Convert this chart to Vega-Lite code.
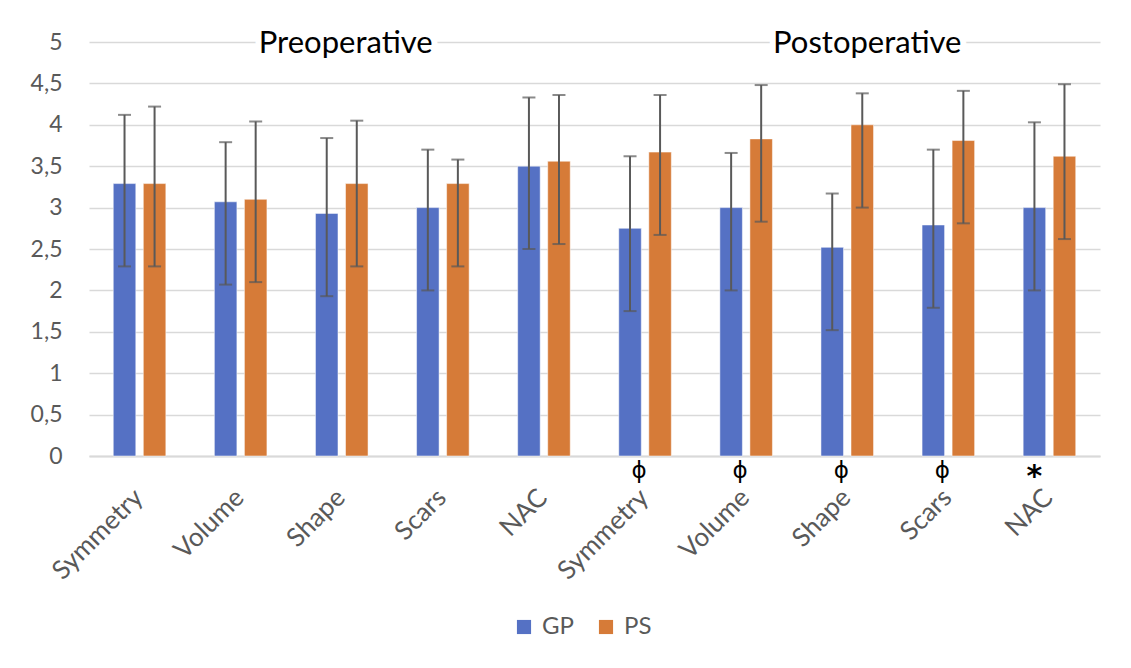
{
  "$schema": "https://vega.github.io/schema/vega-lite/v6.json",
  "width": 1011,
  "height": 414,
  "autosize": "none",
  "padding": {"left": 89, "top": 42, "right": 31, "bottom": 212},
  "background": "white",
  "config": {
    "view": {"stroke": null},
    "font": "Lato",
    "axis": {"labelFont": "Lato", "labelColor": "#595959"}
  },
  "datasets": {
    "bars": [
      {"key": "pre-Symmetry", "group": "GP", "mean": 3.29, "lo": 2.29, "hi": 4.12},
      {"key": "pre-Symmetry", "group": "PS", "mean": 3.29, "lo": 2.29, "hi": 4.22},
      {"key": "pre-Volume", "group": "GP", "mean": 3.07, "lo": 2.07, "hi": 3.79},
      {"key": "pre-Volume", "group": "PS", "mean": 3.10, "lo": 2.10, "hi": 4.04},
      {"key": "pre-Shape", "group": "GP", "mean": 2.93, "lo": 1.93, "hi": 3.84},
      {"key": "pre-Shape", "group": "PS", "mean": 3.29, "lo": 2.29, "hi": 4.05},
      {"key": "pre-Scars", "group": "GP", "mean": 3.0, "lo": 2.0, "hi": 3.70},
      {"key": "pre-Scars", "group": "PS", "mean": 3.29, "lo": 2.29, "hi": 3.58},
      {"key": "pre-NAC", "group": "GP", "mean": 3.5, "lo": 2.5, "hi": 4.33},
      {"key": "pre-NAC", "group": "PS", "mean": 3.56, "lo": 2.56, "hi": 4.36},
      {"key": "post-Symmetry", "group": "GP", "mean": 2.75, "lo": 1.75, "hi": 3.62},
      {"key": "post-Symmetry", "group": "PS", "mean": 3.67, "lo": 2.67, "hi": 4.36},
      {"key": "post-Volume", "group": "GP", "mean": 3.0, "lo": 2.0, "hi": 3.66},
      {"key": "post-Volume", "group": "PS", "mean": 3.83, "lo": 2.83, "hi": 4.48},
      {"key": "post-Shape", "group": "GP", "mean": 2.52, "lo": 1.52, "hi": 3.17},
      {"key": "post-Shape", "group": "PS", "mean": 4.0, "lo": 3.0, "hi": 4.38},
      {"key": "post-Scars", "group": "GP", "mean": 2.79, "lo": 1.79, "hi": 3.70},
      {"key": "post-Scars", "group": "PS", "mean": 3.81, "lo": 2.81, "hi": 4.41},
      {"key": "post-NAC", "group": "GP", "mean": 3.0, "lo": 2.0, "hi": 4.03},
      {"key": "post-NAC", "group": "PS", "mean": 3.62, "lo": 2.62, "hi": 4.49}
    ],
    "marks": [
      {"key": "post-Symmetry", "group": "GP", "y": -0.2, "label": "ϕ"},
      {"key": "post-Volume", "group": "GP", "y": -0.2, "label": "ϕ"},
      {"key": "post-Shape", "group": "GP", "y": -0.2, "label": "ϕ"},
      {"key": "post-Scars", "group": "GP", "y": -0.2, "label": "ϕ"}
    ],
    "stars": [
      {"key": "post-NAC", "group": "GP", "y": -0.2, "label": "*"}
    ],
    "preTitle": [
      {"key": "pre-Shape", "y": 5, "label": "Preoperative"}
    ],
    "postTitle": [
      {"key": "post-Shape", "y": 5, "label": "Postoperative"}
    ]
  },
  "encoding": {
    "x": {
      "field": "key",
      "type": "nominal",
      "sort": null,
      "scale": {
        "domain": ["pre-Symmetry", "pre-Volume", "pre-Shape", "pre-Scars", "pre-NAC", "post-Symmetry", "post-Volume", "post-Shape", "post-Scars", "post-NAC"],
        "paddingInner": 0.48,
        "paddingOuter": 0.24
      },
      "axis": {
        "title": null,
        "labelExpr": "split(datum.value, '-')[1]",
        "labelAngle": -45,
        "labelFontSize": 26,
        "labelPadding": 28,
        "labelOffset": -10,
        "ticks": false,
        "domainColor": "#D9D9D9",
        "domainWidth": 2
      }
    }
  },
  "layer": [
    {
      "data": {"name": "bars"},
      "mark": {"type": "bar", "stroke": "#ffffff", "strokeOpacity": 0.5, "strokeWidth": 1},
      "encoding": {
        "xOffset": {"field": "group", "type": "nominal", "scale": {"paddingInner": 0.25, "domain": ["GP", "PS"]}},
        "y": {
          "field": "mean",
          "type": "quantitative",
          "scale": {"domain": [0, 5]},
          "axis": {
            "title": null,
            "values": [0, 0.5, 1, 1.5, 2, 2.5, 3, 3.5, 4, 4.5, 5],
            "labelExpr": "replace(toString(datum.value), '.', ',')",
            "labelFontSize": 23,
            "labelPadding": 27,
            "ticks": false,
            "domain": false,
            "gridColor": "#D9D9D9",
            "gridWidth": 1.5
          }
        },
        "color": {
          "field": "group",
          "type": "nominal",
          "scale": {"domain": ["GP", "PS"], "range": ["#5571C4", "#D67B38"]},
          "legend": {
            "title": null,
            "orient": "none",
            "legendX": 423,
            "legendY": 573,
            "direction": "horizontal",
            "symbolType": "square",
            "symbolSize": 200,
            "symbolStrokeWidth": 0,
            "labelFontSize": 24,
            "labelColor": "#595959",
            "labelFont": "Lato",
            "columnPadding": 20,
            "labelOffset": 6
          }
        }
      }
    },
    {
      "data": {"name": "bars"},
      "mark": {"type": "rule", "color": "#595959", "strokeWidth": 2},
      "encoding": {
        "xOffset": {"field": "group", "type": "nominal"},
        "y": {"field": "lo", "type": "quantitative"},
        "y2": {"field": "hi"}
      }
    },
    {
      "data": {"name": "bars"},
      "mark": {"type": "tick", "color": "#595959", "thickness": 2, "size": 13},
      "encoding": {
        "xOffset": {"field": "group", "type": "nominal"},
        "y": {"field": "lo", "type": "quantitative"}
      }
    },
    {
      "data": {"name": "bars"},
      "mark": {"type": "tick", "color": "#595959", "thickness": 2, "size": 13},
      "encoding": {
        "xOffset": {"field": "group", "type": "nominal"},
        "y": {"field": "hi", "type": "quantitative"}
      }
    },
    {
      "data": {"name": "marks"},
      "mark": {"type": "text", "fontSize": 23, "color": "#000000", "baseline": "middle", "font": "DejaVu Sans", "dx": 9, "dy": -2},
      "encoding": {
        "xOffset": {"field": "group", "type": "nominal"},
        "y": {"field": "y", "type": "quantitative"},
        "text": {"field": "label"}
      }
    },
    {
      "data": {"name": "stars"},
      "mark": {"type": "text", "fontSize": 30, "fontWeight": "bold", "color": "#000000", "baseline": "middle", "dy": 4, "font": "DejaVu Sans"},
      "encoding": {
        "xOffset": {"field": "group", "type": "nominal"},
        "y": {"field": "y", "type": "quantitative"},
        "text": {"field": "label"}
      }
    },
    {
      "data": {"name": "preTitle"},
      "mark": {"type": "text", "fontSize": 31, "color": "#ffffff", "stroke": "#ffffff", "strokeWidth": 12, "baseline": "middle", "dy": 2, "dx": 4},
      "encoding": {
        "y": {"field": "y", "type": "quantitative"},
        "text": {"field": "label"}
      }
    },
    {
      "data": {"name": "preTitle"},
      "mark": {"type": "text", "fontSize": 31, "color": "#000000", "baseline": "middle", "dy": 2, "dx": 4},
      "encoding": {
        "y": {"field": "y", "type": "quantitative"},
        "text": {"field": "label"}
      }
    },
    {
      "data": {"name": "postTitle"},
      "mark": {"type": "text", "fontSize": 31, "color": "#ffffff", "stroke": "#ffffff", "strokeWidth": 12, "baseline": "middle", "dy": 2, "dx": 20},
      "encoding": {
        "y": {"field": "y", "type": "quantitative"},
        "text": {"field": "label"}
      }
    },
    {
      "data": {"name": "postTitle"},
      "mark": {"type": "text", "fontSize": 31, "color": "#000000", "baseline": "middle", "dy": 2, "dx": 20},
      "encoding": {
        "y": {"field": "y", "type": "quantitative"},
        "text": {"field": "label"}
      }
    }
  ]
}
